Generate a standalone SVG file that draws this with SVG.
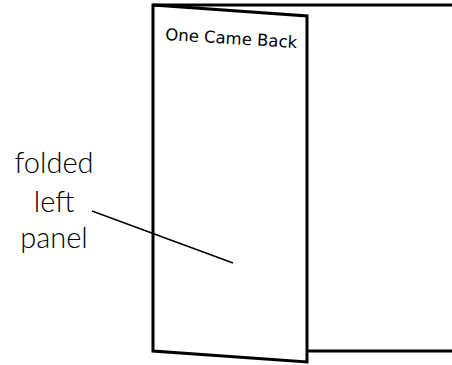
<svg xmlns="http://www.w3.org/2000/svg" width="452" height="365" viewBox="0 0 452 365">
<style>
.edge{fill:none;stroke:#000;stroke-width:3;stroke-linejoin:miter}
.lbl{font-family:Lato,"Open Sans","Liberation Sans",sans-serif;font-weight:300;font-size:29px;fill:#000;text-anchor:middle}
.title{font-family:"DejaVu Sans",sans-serif;font-size:16.5px;fill:#000}
</style>
<rect width="452" height="365" fill="#fff"/>
<g id="back-panel">
<path class="edge" d="M153,5 L454,5 M307,351 L454,351"/>
</g>
<g id="folded-panel">
<polygon class="edge" fill="#fff" points="153,5 307,16 307,362 153,351"/>
<text class="title" x="165" y="40" transform="rotate(3.5 165 40)">One Came Back</text>
</g>
<g id="label">
<text class="lbl" x="54" y="173">folded</text>
<text class="lbl" x="54" y="212">left</text>
<text class="lbl" x="54" y="248">panel</text>
</g>
<g id="connectors">
<line x1="92" y1="211" x2="233" y2="263" stroke="#000" stroke-width="1.5"/>
</g>
</svg>
